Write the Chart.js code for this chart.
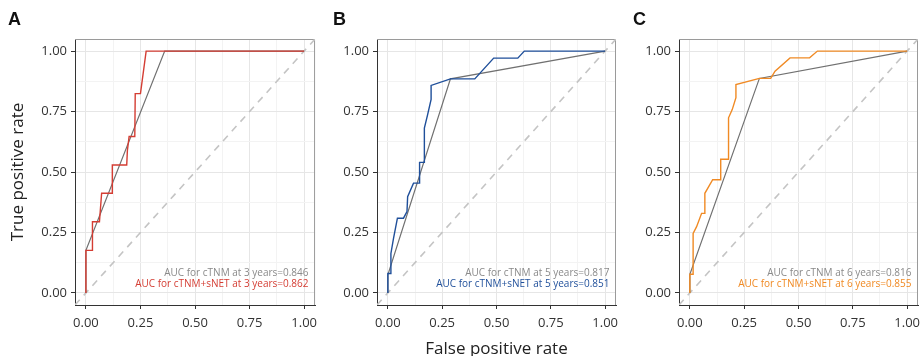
<!DOCTYPE html>
<html>
<head>
<meta charset="utf-8">
<script src="https://cdn.jsdelivr.net/npm/chart.js@4/dist/chart.umd.min.js"></script>
<style>
  html, body { margin: 0; padding: 0; background: #fff; }
  #wrap { position: relative; width: 921px; height: 356px; overflow: hidden; }
  canvas { position: absolute; top: 0; }
</style>
</head>
<body>
<div id="wrap">
  <canvas id="panelA" style="left:0px"></canvas>
  <canvas id="panelB" style="left:325px"></canvas>
  <canvas id="panelC" style="left:625px"></canvas>
</div>
<script>
// axis ticks (major) and minor grid positions
const tickValues = [0, 0.25, 0.5, 0.75, 1];
const tickLabels = ["0.00", "0.25", "0.50", "0.75", "1.00"];
const minorValues = [0.125, 0.375, 0.625, 0.875];

const panelLetters = ["A", "B", "C"];
const years = [3, 5, 6];
const aucCtnm = [0.846, 0.817, 0.816];
const aucCombined = [0.862, 0.851, 0.855];

// 3 years
const ctnm3Fpr = [0, 0, 0.361, 1];
const ctnm3Tpr = [0, 0.176, 1, 1];
const comb3Fpr = [0, 0, 0.03, 0.03, 0.062, 0.072, 0.121, 0.121, 0.187, 0.19, 0.198, 0.224, 0.226, 0.25, 0.276, 1];
const comb3Tpr = [0, 0.176, 0.176, 0.294, 0.294, 0.412, 0.412, 0.529, 0.529, 0.588, 0.647, 0.647, 0.824, 0.824, 1, 1];

// 5 years
const ctnm5Fpr = [0, 0, 0.288, 1];
const ctnm5Tpr = [0, 0.075, 0.885, 1];
const comb5Fpr = [0, 0, 0.014, 0.014, 0.026, 0.044, 0.072, 0.088, 0.091, 0.118, 0.146, 0.146, 0.168, 0.168, 0.183, 0.199, 0.199, 0.288, 0.40, 0.487, 0.598, 0.628, 1];
const comb5Tpr = [0, 0.08, 0.08, 0.163, 0.226, 0.309, 0.309, 0.336, 0.398, 0.454, 0.454, 0.54, 0.54, 0.682, 0.737, 0.80, 0.858, 0.885, 0.885, 0.971, 0.971, 1, 1];

// 6 years
const ctnm6Fpr = [0, 0, 0.32, 1];
const ctnm6Tpr = [0, 0.077, 0.887, 1];
const comb6Fpr = [0, 0, 0.015, 0.015, 0.031, 0.054, 0.069, 0.069, 0.105, 0.142, 0.142, 0.178, 0.178, 0.195, 0.212, 0.212, 0.32, 0.372, 0.392, 0.461, 0.551, 0.587, 1];
const comb6Tpr = [0, 0.077, 0.077, 0.246, 0.274, 0.329, 0.329, 0.412, 0.468, 0.468, 0.553, 0.553, 0.724, 0.758, 0.807, 0.862, 0.887, 0.887, 0.917, 0.972, 0.972, 1, 1];

// reference diagonal
const diagXY = [-0.05, 1.05];

const FONT = "'Open Sans', 'DejaVu Sans', sans-serif";
const toPoints = (xs, ys) => xs.map((x, i) => ({ x: x, y: ys[i] }));

// letters, top/right border, AUC text
const decorPlugin = {
  id: "decor",
  beforeDatasetsDraw(chart) {
    const { ctx, chartArea: a } = chart;
    ctx.save();
    ctx.strokeStyle = "#9a9a9a";
    ctx.lineWidth = 1;
    ctx.beginPath();
    ctx.moveTo(a.left, a.top + 0.5);
    ctx.lineTo(a.right - 0.5, a.top + 0.5);
    ctx.lineTo(a.right - 0.5, a.bottom);
    ctx.stroke();
    ctx.restore();
  },
  afterDraw(chart) {
    const o = chart.options.plugins.decor;
    const { ctx, scales } = chart;
    ctx.save();
    ctx.fillStyle = "#111";
    ctx.font = "bold 18px 'Liberation Sans', Arial, sans-serif";
    ctx.textBaseline = "alphabetic";
    ctx.fillText(o.letter, 8, 25);

    ctx.font = "10px " + FONT;
    ctx.textAlign = "right";
    ctx.textBaseline = "middle";
    const x = scales.x.getPixelForValue(1.02);
    ctx.fillStyle = "#8a8a8a";
    ctx.fillText(o.line1, x, scales.y.getPixelForValue(0.083));
    ctx.fillStyle = o.color;
    ctx.fillText(o.line2, x, scales.y.getPixelForValue(0.036));
    ctx.restore();
  }
};

function makePanel(id, idx, fpr, tpr, cFpr, cTpr, color, layout) {
  const canvas = document.getElementById(id);
  canvas.width = layout.width;
  canvas.height = 356;
  canvas.style.width = layout.width + "px";
  canvas.style.height = "356px";

  const gridColor = (c) => (minorValues.includes(c.tick.value) ? "#f3f3f3" : "#e6e6e6");
  const tickColor = (c) => (minorValues.includes(c.tick.value) ? "rgba(0,0,0,0)" : "#333");
  const allTicks = tickValues.concat(minorValues).sort((a, b) => a - b);
  const labelFor = (v) => {
    const i = tickValues.indexOf(v);
    return i >= 0 ? tickLabels[i] : "";
  };

  new Chart(canvas.getContext("2d"), {
    type: "line",
    data: {
      datasets: [
        {
          data: toPoints(cFpr, cTpr),
          borderColor: color,
          borderWidth: 1.4,
          pointRadius: 0,
          tension: 0,
        },
        {
          data: toPoints(fpr, tpr),
          borderColor: "#707070",
          borderWidth: 1.2,
          pointRadius: 0,
          tension: 0,
        },
        {
          data: toPoints(diagXY, diagXY),
          borderColor: "#c4c4c4",
          borderWidth: 1.6,
          borderDash: [7, 6],
          pointRadius: 0,
        },
      ],
    },
    options: {
      responsive: false,
      animation: false,
      events: [],
      layout: { padding: { left: 0, right: layout.padRight, top: 39, bottom: 0 } },
      plugins: {
        legend: { display: false },
        tooltip: { enabled: false },
        decor: {
          letter: panelLetters[idx],
          color: color,
          line1: `AUC for cTNM at ${years[idx]} years=${aucCtnm[idx]}`,
          line2: `AUC for cTNM+sNET at ${years[idx]} years=${aucCombined[idx]}`,
        },
      },
      scales: {
        x: {
          type: "linear",
          min: -0.05,
          max: 1.05,
          afterBuildTicks: (s) => { s.ticks = allTicks.map((v) => ({ value: v })); },
          afterFit: (s) => { s.height = 51; },
          border: { color: "#333", width: 1 },
          grid: { color: gridColor, tickColor: tickColor, tickLength: 4, lineWidth: 1 },
          ticks: {
            autoSkip: false,
            maxRotation: 0,
            padding: 6,
            color: "#333",
            font: { family: FONT, size: 13 },
            callback: (v) => labelFor(v),
          },
          title: {
            display: idx === 1,
            text: "False positive rate",
            color: "#222",
            font: { family: FONT, size: 17, lineHeight: 1 },
            padding: { top: 0, bottom: -2 },
          },
        },
        y: {
          type: "linear",
          min: -0.05,
          max: 1.05,
          afterBuildTicks: (s) => { s.ticks = allTicks.map((v) => ({ value: v })); },
          afterFit: (s) => { s.width = layout.yWidth; },
          border: { color: "#333", width: 1 },
          grid: { color: gridColor, tickColor: tickColor, tickLength: 4, lineWidth: 1 },
          ticks: {
            autoSkip: false,
            padding: 4,
            color: "#333",
            font: { family: FONT, size: 13 },
            callback: (v) => labelFor(v),
          },
          title: {
            display: idx === 0,
            text: "True positive rate",
            color: "#222",
            font: { family: FONT, size: 17, lineHeight: 1 },
            padding: { top: 10, bottom: 0 },
          },
        },
      },
    },
    plugins: [decorPlugin],
  });
}

makePanel("panelA", 0, ctnm3Fpr, ctnm3Tpr, comb3Fpr, comb3Tpr, "#d43d33", { width: 323, padRight: 0, yWidth: 75 });
makePanel("panelB", 1, ctnm5Fpr, ctnm5Tpr, comb5Fpr, comb5Tpr, "#1f4f9a", { width: 299, padRight: 0, yWidth: 52 });
makePanel("panelC", 2, ctnm6Fpr, ctnm6Tpr, comb6Fpr, comb6Tpr, "#f08a24", { width: 301, padRight: 0, yWidth: 54 });
</script>
</body>
</html>
